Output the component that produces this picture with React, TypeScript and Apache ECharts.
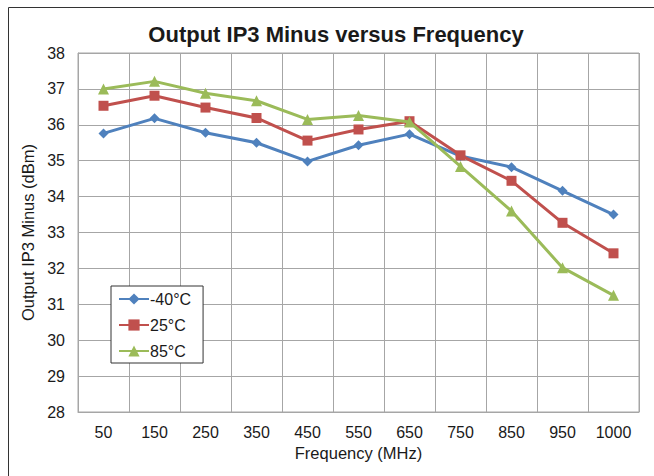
import React, { useEffect, useRef } from "react";
import * as echarts from "echarts";

const categories = ["50", "150", "250", "350", "450", "550", "650", "750", "850", "950", "1000"];
const seriesNames = ["-40°C", "25°C", "85°C"];
const minus40 = [35.76, 36.18, 35.78, 35.5, 34.98, 35.43, 35.74, 35.13, 34.82, 34.16, 33.5];
const plus25 = [36.53, 36.81, 36.48, 36.19, 35.56, 35.87, 36.1, 35.15, 34.44, 33.27, 32.42];
const plus85 = [37.0, 37.21, 36.88, 36.67, 36.15, 36.26, 36.08, 34.84, 33.6, 32.02, 31.25];
const yTicks = { min: 28, max: 38, interval: 1 };

const FONT = "'Liberation Sans', Arial, sans-serif";

export default function App() {
  const ref = useRef<HTMLDivElement>(null);
  useEffect(() => {
    if (!ref.current) return;
    const chart = echarts.init(ref.current, null, { renderer: "svg" });
    const colors = ["#4F81BD", "#C0504D", "#9BBB59"];
    const symbols = ["diamond", "rect", "triangle"];
    const sizes = [10, 10, 11];
    const datas = [minus40, plus25, plus85];
    chart.setOption({
      animation: false,
      backgroundColor: "#ffffff",
      textStyle: { fontFamily: FONT },
      title: {
        text: "Output IP3 Minus versus Frequency",
        left: 331,
        textAlign: "center",
        top: 18,
        textStyle: { fontFamily: FONT, fontSize: 22, fontWeight: "bold", color: "#1a1a1a" },
      },
      graphic: [
        {
          type: "rect",
          shape: { x: 8.5, y: 7.5, width: 700, height: 500 },
          style: { fill: "none", stroke: "#333333", lineWidth: 1 },
          silent: true,
        },
      ],
      grid: { left: 78, top: 53, right: 15, bottom: 64, show: true, borderColor: "#a6a6a6", borderWidth: 1 },
      legend: {
        orient: "vertical",
        left: 111,
        top: 286,
        padding: [5, 12, 4, 7],
        itemGap: 10,
        itemWidth: 30,
        itemHeight: 14,
        backgroundColor: "#ffffff",
        borderColor: "#333333",
        borderWidth: 1,
        borderRadius: 0,
        data: seriesNames,
        textStyle: { fontFamily: FONT, fontSize: 16, color: "#1a1a1a", padding: [0, 0, 0, -4] },
      },
      xAxis: {
        type: "category",
        data: categories,
        boundaryGap: true,
        name: "Frequency (MHz)",
        nameLocation: "middle",
        nameGap: 32,
        nameTextStyle: { fontFamily: FONT, fontSize: 16.5, color: "#1a1a1a" },
        axisLine: { show: true, lineStyle: { color: "#a6a6a6" } },
        axisTick: { show: false },
        axisLabel: { fontFamily: FONT, fontSize: 16, color: "#1a1a1a", margin: 12 },
        splitLine: { show: true, lineStyle: { color: "#a6a6a6", width: 1 } },
      },
      yAxis: {
        type: "value",
        min: yTicks.min,
        max: yTicks.max,
        interval: yTicks.interval,
        name: "Output IP3 Minus (dBm)",
        nameLocation: "middle",
        nameGap: 36,
        nameTextStyle: { fontFamily: FONT, fontSize: 16.5, color: "#1a1a1a" },
        axisLine: { show: true, lineStyle: { color: "#a6a6a6" } },
        axisTick: { show: false },
        axisLabel: { fontFamily: FONT, fontSize: 16, color: "#1a1a1a", margin: 13 },
        splitLine: { show: true, lineStyle: { color: "#a6a6a6", width: 1 } },
      },
      series: datas.map((d, i) => ({
        name: seriesNames[i],
        type: "line",
        data: d,
        symbol: symbols[i],
        symbolSize: sizes[i],
        showAllSymbol: true,
        lineStyle: { color: colors[i], width: 3 },
        itemStyle: { color: colors[i] },
        z: 2 + i,
      })),
    });
    return () => chart.dispose();
  }, []);
  return (
    <div
      ref={ref}
      style={{ position: "fixed", left: 0, top: 0, width: 654, height: 476 }}
    />
  );
}
